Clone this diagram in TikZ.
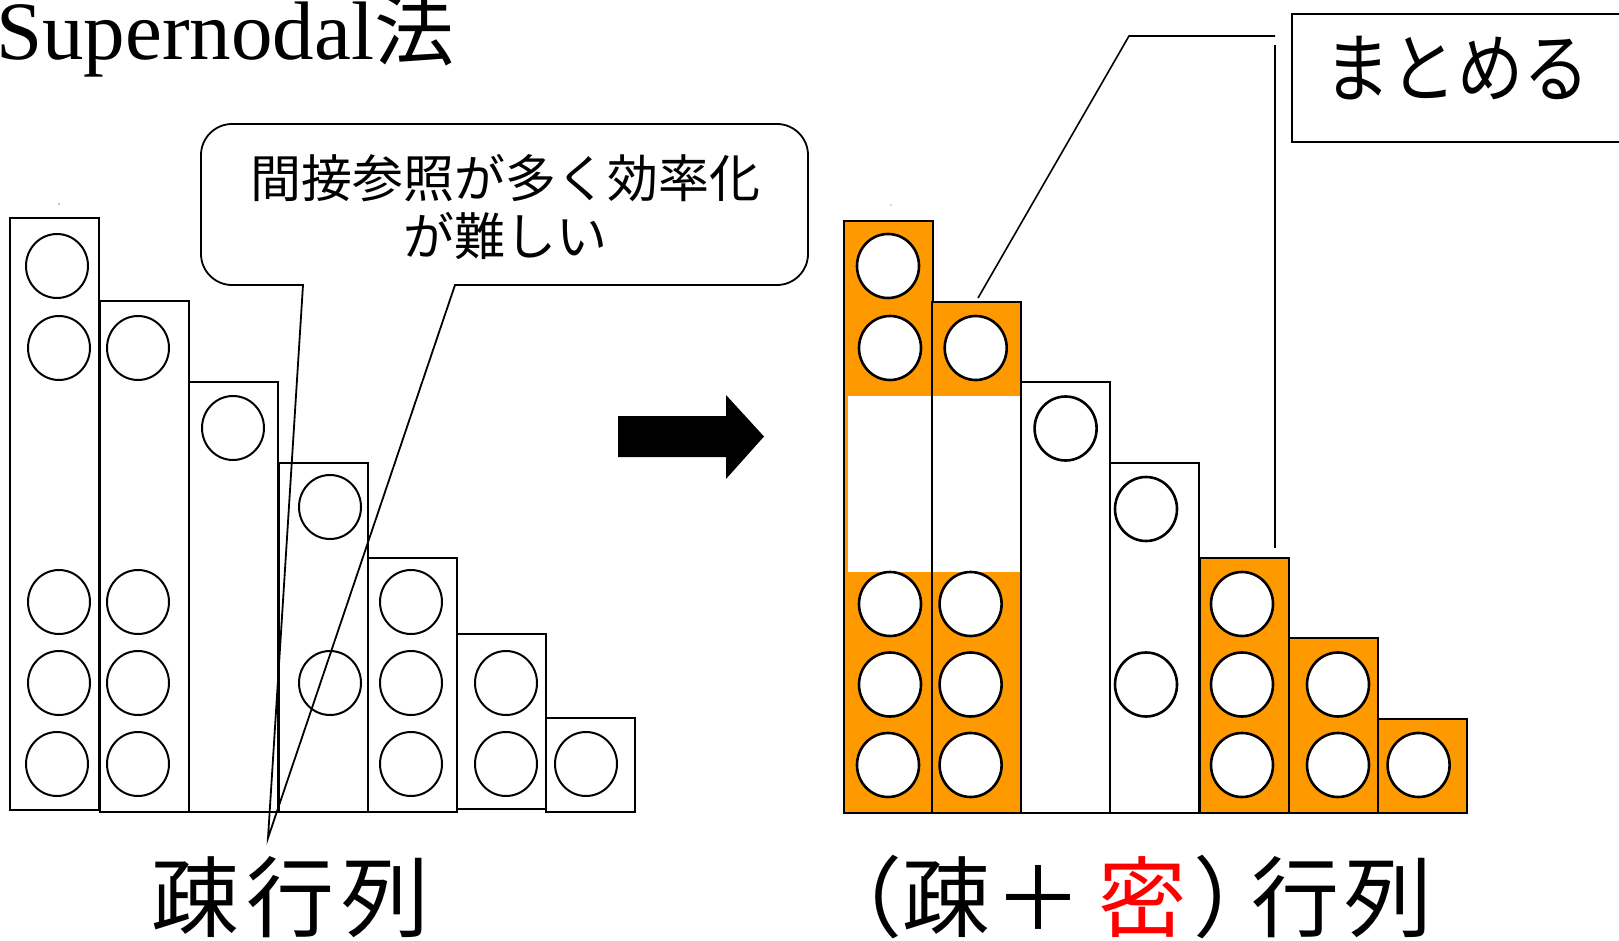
\documentclass[tikz,border=0pt]{standalone}
\usepackage{fontspec}
\setmainfont{Liberation Serif}
\newfontfamily\jp{Noto Sans CJK JP}
\newfontfamily\jpn[FakeStretch=0.87]{Noto Sans CJK JP}
\usetikzlibrary{shapes.geometric}
\definecolor{orng}{RGB}{255,153,0}
\begin{document}
\begin{tikzpicture}[x=1pt,y=-1pt,
  colbox/.style={draw=black,line width=2pt,inner sep=0pt,outer sep=0pt,anchor=north west,minimum width=89pt},
  cell/.style={ellipse,draw=black,line width=2pt,fill=white,inner sep=0pt,minimum width=62pt,minimum height=64pt},
  cellb/.style={cell,line width=2.6pt},
  lead/.style={line width=1.6pt},
  jpt/.style={inner sep=0pt}]
\useasboundingbox (0,0) rectangle (1619,941);

% title
\node[anchor=base west,inner sep=0pt,font=\fontsize{83}{90}\selectfont] (title) at (-4,60) {Supernodal{\jp\fontsize{80}{90}\selectfont 法}};
\fill[gray] (59,204) circle (0.8);
\fill[gray!60] (891,205) circle (0.8);

% left sparse matrix columns
\foreach \n/\x/\t/\b in {1/10/218/810, 2/100/301/812, 3/189/382/812, 4/279/463/812, 5/368/558/812, 6/457/634/809, 7/546/718/812} {
  \pgfmathsetmacro\h{\b-\t}
  \node[colbox,minimum height=\h pt] (L\n) at (\x,\t) {};
}
\foreach \n/\x/\y in {a/57/266, b/59/348, c/59/602, d/59/683, e/57/764, f/138/348, g/138/602, h/138/683, i/138/764, j/233/428, k/330/507, l/330/683, m/411/602, n/411/683, o/411/764, p/506/683, q/506/764, r/586/764}
  \node[cell] (c\n) at (\x,\y) {};

% bubble
\draw[line width=1.8pt] (303,285) -- (232,285) .. controls (215,285) and (201,271) .. (201,254) -- (201,155) .. controls (201,138) and (215,124) .. (232,124) -- (777,124) .. controls (794,124) and (808,138) .. (808,155) -- (808,254) .. controls (808,271) and (794,285) .. (777,285) -- (455,285) -- (268,838) -- cycle;
\node[jpt,align=center,font=\jp\fontsize{51}{58}\selectfont] (bt) at (505,207) {間接参照が多く効率化\\が難しい};

% arrow
\fill[black] (618,416) -- (726,416) -- (726,395) -- (764,436.5) -- (726,479) -- (726,457) -- (618,457) -- cycle;

% right matrix columns
\foreach \n/\x/\t in {1/843.5/221, 2/932.3/301.5}{
  \pgfmathsetmacro\h{812.6-\t}
  \node[colbox,fill=orng,minimum height=\h pt] (R\n) at (\x,\t) {};
}
\fill[white] (847.5,396) rectangle (1021,572);
\draw[line width=2pt] (932.3,396) -- (932.3,572);
\foreach \n/\x/\t/\f in {3/1021/382/white, 4/1110/462.6/white, 5/1200/557.6/orng, 6/1289/638/orng, 7/1378/718.6/orng}{
  \pgfmathsetmacro\h{812.6-\t}
  \node[colbox,fill=\f,minimum height=\h pt] (R\n) at (\x,\t) {};
}
\foreach \n/\x/\y in {a/888/266, b/890/348, c/890/604, d/890/684.5, e/888/765, f/975.7/348, g/970.6/604, h/970.6/684.5, i/970.6/765, j/1065.6/428.5, k/1146/509, l/1146/684.5, m/1242/604, n/1242/684.5, o/1242/765, p/1338/684.5, q/1338/765, r/1418.6/765}
  \node[cellb] (d\n) at (\x,\y) {};

% matomeru callout
\node[draw=black,line width=2pt,anchor=north west,minimum width=330pt,minimum height=128pt,inner sep=0pt] (mbox) at (1291,13) {};
\node[jpt,font=\jpn\fontsize{76}{80}\selectfont] (mtxt) at (1457,68) {まとめる};
\coordinate (k1) at (978,298);
\coordinate (k2) at (1129,36);
\coordinate (k3) at (1275,36);
\draw[lead] (k1) -- (k2) -- (k3);
\coordinate (v1) at (1275,45);
\coordinate (v2) at (1275,548);
\draw[lead] (v1) -- (v2);

% bottom labels
\node[jpt,anchor=base west,font=\jp\fontsize{88}{90}\selectfont] (t1) at (151,930) {疎\hspace{7pt}行\hspace{7pt}列};
\node[jpt,anchor=base west,font=\jp\fontsize{88}{90}\selectfont] (t2) at (814,930) {（疎\hspace{4pt}＋\hspace{16pt}{\color{red}密}\hspace{7pt}）\hspace{-30pt}行\hspace{5pt}列};
\end{tikzpicture}
\end{document}
